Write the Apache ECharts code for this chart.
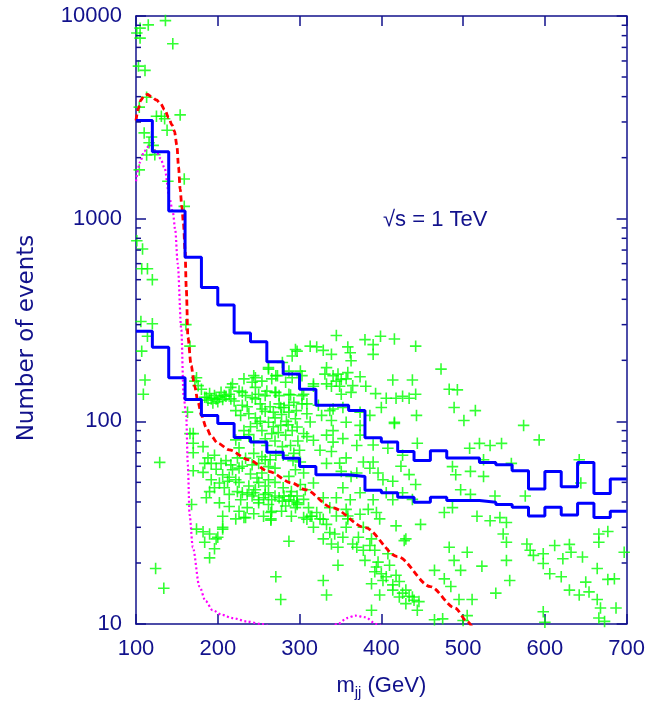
<!DOCTYPE html>
<html><head><meta charset="utf-8">
<script src="https://cdn.jsdelivr.net/npm/echarts@6/dist/echarts.min.js"></script>
<style>html,body{margin:0;padding:0;background:#fff}#c{width:648px;height:705px}</style>
</head><body><div id="c"></div>
<script>
// ---- data ----
const binEdges = [100,120,140,160,180,200,220,240,260,280,300,320,340,360,380,400,420,440,460,480,500,520,540,560,580,600,620,640,660,680];
const binEnd = 700;
const histUpper = [3050,2140,1090,646,457,375,273,247,197,171,144,120,120,113,83,79,71,64,71.5,66,66,62.7,61,57,46.4,56.6,47.5,62.7,44,52];
const histLower = [278,232,164,128,107,97.5,83.2,79,70.3,65.8,59.8,54.5,54.5,53.5,45.7,44.4,42.2,39.9,42.2,40.7,40.7,39.9,38.9,37.7,34.1,37.7,34.5,39.4,33.5,36];
const redCurve = [[100,3050],[103,3500],[106,3850],[110,4050],[114,4100],[119,4000],[125,3850],[130,3700],[135,3450],[140,3150],[144,2900],[147,2700],[150,2300],[152,1800],[154,1400],[156,1150],[158,950],[160,700],[161.5,450],[163.5,260],[167.5,188],[171.5,150],[176,124],[180,107],[186,93],[192,84.5],[200,78],[214,72.3],[238,64.6],[262,56.6],[291,49.6],[307,46],[340,37.5],[380,29.9],[420,21.5],[460,15.3],[490,12],[505,10.3],[512,9.5]];
const magentaCurve = [[100,1530],[105,1900],[110,2150],[115,2260],[120,2250],[125,2140],[130,1980],[135,1775],[141,1265],[145,1080],[148,880],[151,600],[155.4,283],[158.2,134],[161.4,107],[163.4,61],[165.5,34.7],[169.5,23.9],[177.6,15.3],[185,13],[193.7,11.7],[205,11.1],[218,10.7],[235,10.3],[254,10.0],[270,9.5],[300,8.8],[330,9.3],[347,10],[358,10.7],[368,11],[380,10.8],[394,10],[410,9.2],[450,8.5]];
const crossPoints = [
[136,9490],[115,9040],[105,8710],[101,8240],[105,7780],[145,7300],[103,5660],[111,5390],[104,3550],[113,3970],[125,3200],[131,3200],[135,3110],[154,3250],[110,2650],[119,2530],[138,2730],[116,2370],[121,2300],[123,2070],[113,2060],[104,1740],[139,1530],[159,1570],[159,1150],
[101,778],[108,708],[107,566],[114,566],[120,500],[106,311],[120,303],[114,263],[107,222],[111,160],[109,136],[161,300],[166,235],[174,164],[295,226],[291,210],[279,195],[262,184],[271,168],[287,177],[246,164],[242,156],[216,147],[230,139],[275,134],[289,135],[303,122],[277,117],
[234,134],[246,129],[258,134],[270,139],[283,156],[291,164],[303,168],[254,115],[268,111],[287,120],[303,134],
[172,158],[176,150],[180,144],[186,131],[192,129],[198,129],[202,131],[208,134],[214,136],[220,126],[218,153],[226,141],[232,162],[244,168],[246,147],[250,136],[242,131],[254,158],[262,181],[266,162],[273,168],[260,141],[271,139],[275,122],[281,117],[287,111],[293,124],[287,136],[222,113],[228,107],[238,109],[240,94],[248,97.5],[232,90],[254,90],[262,99],[266,87],[258,82],[277,95.5],[283,85.5],[279,75],[289,76],[295,103],[291,90],[222,81],[226,74],[182,75],[170,87],[163,111],
[184,131.5],[188,127],[194,123],[200,125],[206,128],[210,133],[216,129],[190,137],[196,134],[204,139],
[230,120],[236,118],[252,122],[258,112],[264,118],[270,104],[278,108],[284,100],[296,113],[246,104],[252,100],[268,94],[274,88],[286,96],[298,80],[238,86],[244,80],[260,76],[270,80],[280,68],[292,64],[300,72],
[170,70],[184,62],[192,62],[170,57],[182,56],[198,58],[206,54.5],[192,51.5],[202,49.6],[212,50.6],[218,57.7],[226,58.8],[234,65.8],[244,69.5],[250,62],[258,64.6],[262,59.8],[254,55.6],[271,68],[190,45],[208,47],[214,43.6],[224,45],[228,41],[236,43.6],[242,42.8],[246,46],[250,41],[256,42],[262,44.4],[266,41],[275,42],[281,42.8],[287,41],[293,40.4],[295,37.5],[202,39.6],[236,37.5],[266,36],[234,33.5],[222,33],[265,33],[206,34],[174,29.4],[182,28.5],[206,29.4],[200,26.8],[190,27.8],[168,38.9],[222,51.5],
[244,44.4],[258,43.6],[270,42.8],[279,40.4],[289,42.8],[297,38.9],[230,44.4],[250,39.6],[262,38.9],[283,38.2],
[242,61],[254,67],[264,64.6],[270,58.8],[248,52.5],[262,51.5],[295,57.7],[287,53.5],
[188,66],[196,68],[204,62],[210,64],[216,61],[224,66],[230,60],[240,55],[250,50],[258,48],[270,50],[280,47],[290,45],[238,48],[226,50],[214,53],[196,47],[186,42],[214,38],[226,36],[244,35],[256,34],[278,36],[290,34],
[129,62.7],[124,18.8],[134,15],[184,25.3],[196,23.5],[190,21.2],[198,26.3],[206,30],[232,33.5],[265,35.5],[265,32.5],[287,25.6],[271,17.1],[277,13.2],[166,87],[170,78],
[345,265],[380,253],[399,263],[416,255],[442,235],[390,239],[313,235],[321,233],[297,222],[329,224],[339,214],[359,233],[362,218],[363,199],[390,214],[301,177],[333,184],[341,168],[347,171],[359,174],[374,166],[357,162],[345,158],[339,149],[349,149],[317,149],[381,149],[414,160],[438,160],[363,139],[351,136],[393,137],[406,130],[418,130],[426,133],[434,130],[442,136],[400,117],[309,122],[309,109],[327,107],[337,113],[339,101],[357,99],[416,99],[443,107],
[317,153],[333,153],[351,161],[331,171],[365,150],[305,136],[323,120],[341,115],[353,117],[374,111],[386,107],[313,99.3],
[374,95.5],[416,97.5],[341,90],[309,84],[341,79],[370,76],[325,72],[339,71],[408,73.6],[426,68],[444,78],[357,66],[378,63],[390,63],[333,62],[301,63],[424,60],[305,55.6],[351,56.6],[363,53.5],[402,51.5],[414,50.6],[442,48.8],[307,46],[353,47],[374,44.4],[329,42],[345,42],[362,41],[390,41],[414,41],[297,39.6],[311,37.5],[337,37.5],[357,36.8],[374,34.8],[384,36.8],[394,35.5],[315,34],
[297,93.8],[305,87.1],[293,69.5],[301,48.8],[317,49.6],[297,42.8],[305,41.2],[321,35.5],[309,32.9],[329,32.9],[345,34.1],[359,34.1],[317,80.7],[333,85.5],[353,82.2],[374,85.5],[390,76.4],[349,62.2],[370,55.6],[386,58.7],[396,55.6],[434,54.6],[406,44.4],[426,44.4],[438,41.2],
[313,34],[325,33],[333,31],[359,33],[378,30],[398,33],[418,30.5],[448,31],[343,27.8],[353,26.8],[339,24.8],[347,23.9],[372,26.8],[388,26.3],[370,23.9],[386,24.4],[430,26.3],[408,22.2],[392,23.1],[380,20.6],[396,20.2],[410,19.5],[392,18.1],[400,17.7],[406,17.1],[418,17.4],[422,16.2],[414,15.6],[430,14.7],[426,14.2],[434,13.7],[446,12.9],[440,13.1],[388,15.8],[398,13.9],[388,11.7],[347,19.5],[329,16.4],[333,13.9],[428,25.8],
[305,33.5],[317,30],[337,28.3],[329,26.3],[357,30],[365,24.8],[378,23.1],[394,19.1],[402,16.4],[414,14.7],[422,13.6],[430,12.6],[438,13.6],[444,11.7],
[473,181],[483,144],[493,143],[489,117],[515,113],[501,101],[574,95.5],[593,81],[508,73.6],[520,77.8],[533,76],[547,77.8],[525,64.6],[559,62],[487,59.8],[491,54.5],[509,56.6],[525,53.5],[642,64.6],[644,49.6],[539,42.8],[576,42.8],[509,43.6],[497,46],[487,37.5],[477,35.5],[517,34],[533,32.3],[545,33.5],[553,31.7],[549,27.8],[553,25.3],[483,23.9],[505,22.6],[578,24.8],[582,23.1],[598,22.2],[612,24.4],[630,24.7],[632,22.6],[586,21.8],[622,21],[646,21.4],[666,27.8],[677,28.6],[666,25.3],[697,22.6],[489,20.6],[523,19.3],[553,20.6],[598,19.9],[606,17.7],[620,17.1],[664,18.8],[677,16.6],[685,16.7],[557,16.4],[650,16.1],[630,14.7],[642,13.9],[654,14.4],[540,14.2],[664,13.2],[668,12],[666,10.7],[687,12],[598,11.5],[495,13.2],[497,18.4],[465,18.4],[477,16.7],[485,15.3],[511,13.2],
[465,10.5],[475,10.6],[500,10.4],[505,11],[600,10.2],[673,10.3]
];
const xTicks = [100,200,300,400,500,600,700];
const yMajor = [10,100,1000,10000];
const yMinor = [20,30,40,50,60,70,80,90,200,300,400,500,600,700,800,900,2000,3000,4000,5000,6000,7000,8000,9000];
const annotation = '√s = 1 TeV';
const yTitle = 'Number of events';

// ---- build ----
function histData(vals){
  const d = binEdges.map((e,i)=>[e, vals[i]]);
  d.push([binEnd, vals[vals.length-1]]);
  return d;
}
const navy = '#12128c';
const font = 'Liberation Sans, Arial, Helvetica, sans-serif';
const chart = echarts.init(document.getElementById('c'), null, {renderer:'canvas'});
const crossPath = 'path://M4.3,0H5.7V4.3H10V5.7H5.7V10H4.3V5.7H0V4.3H4.3Z';
const axisCommon = {
  axisLine:{show:true, lineStyle:{color:navy, width:1.5}},
  axisTick:{show:true, inside:true, length:10, lineStyle:{color:navy, width:1.5}},
  splitLine:{show:false}
};
chart.setOption({
  animation:false,
  backgroundColor:'#fff',
  grid:{left:136, right:17, top:16, bottom:74, containLabel:false},
  xAxis:[
    Object.assign({type:'value', min:xTicks[0], max:xTicks[xTicks.length-1], interval:100, position:'bottom',
      axisLabel:{color:navy, fontSize:22, fontFamily:font, margin:14},
      name:'{m|m}{s|jj}{m| (GeV)}', nameLocation:'middle', nameGap:47,
      nameTextStyle:{color:navy, fontFamily:font, rich:{m:{fontSize:22, color:navy, fontFamily:font}, s:{fontSize:15, color:navy, fontFamily:font, padding:[14,0,0,0]}}}
    }, axisCommon),
    Object.assign({type:'value', min:xTicks[0], max:xTicks[xTicks.length-1], interval:100, position:'top', axisLabel:{show:false}}, axisCommon)
  ],
  yAxis:[
    Object.assign({type:'log', logBase:10, min:yMajor[0], max:yMajor[yMajor.length-1], position:'left',
      axisLabel:{color:navy, fontSize:22, fontFamily:font, margin:14, formatter:function(v){return String(Math.round(v));}}
    }, axisCommon),
    Object.assign({type:'log', logBase:10, min:yMajor[0], max:yMajor[yMajor.length-1], position:'right', axisLabel:{show:false}}, axisCommon)
  ],
  graphic:[
    {type:'text', left:383, top:209, style:{text:annotation, fill:navy, font:'22px '+font}},
    {type:'text', x:27, y:338, rotation:Math.PI/2, style:{text:yTitle, fill:navy, font:'23px DejaVu Sans, sans-serif', textAlign:'center', textVerticalAlign:'middle'}}
  ],
  series:[
    {type:'scatter', data:crossPoints, symbol:crossPath, symbolSize:11.5, itemStyle:{color:'#00ff00'}, z:2, clip:true},
    {type:'line', data:magentaCurve, symbol:'none', smooth:0.3, smoothMonotone:'x', lineStyle:{color:'#ff00ff', width:2.2, type:[2,2.5]}, z:3, clip:true},
    {type:'line', data:redCurve, symbol:'none', smooth:0.3, smoothMonotone:'x', lineStyle:{color:'#ff0000', width:2.8, type:[6,3.5]}, z:4, clip:true},
    {type:'line', data:histData(histUpper), step:'end', symbol:'none', lineStyle:{color:'#0000ff', width:3}, z:5, clip:true},
    {type:'line', data:histData(histLower), step:'end', symbol:'none', lineStyle:{color:'#0000ff', width:3}, z:5, clip:true},
    {type:'custom', data:yMinor.map(v=>[xTicks[0], v]), encode:{x:0,y:1}, z:6, clip:false,
      renderItem:function(params, api){
        const v = api.value(1);
        const l = api.coord([xTicks[0], v]);
        const r = api.coord([xTicks[xTicks.length-1], v]);
        return {type:'group', children:[
          {type:'line', shape:{x1:l[0], y1:l[1], x2:l[0]+5, y2:l[1]}, style:{stroke:navy, lineWidth:1.5}},
          {type:'line', shape:{x1:r[0]-5, y1:r[1], x2:r[0], y2:r[1]}, style:{stroke:navy, lineWidth:1.5}}
        ]};
      }}
  ]
});
</script></body></html>
